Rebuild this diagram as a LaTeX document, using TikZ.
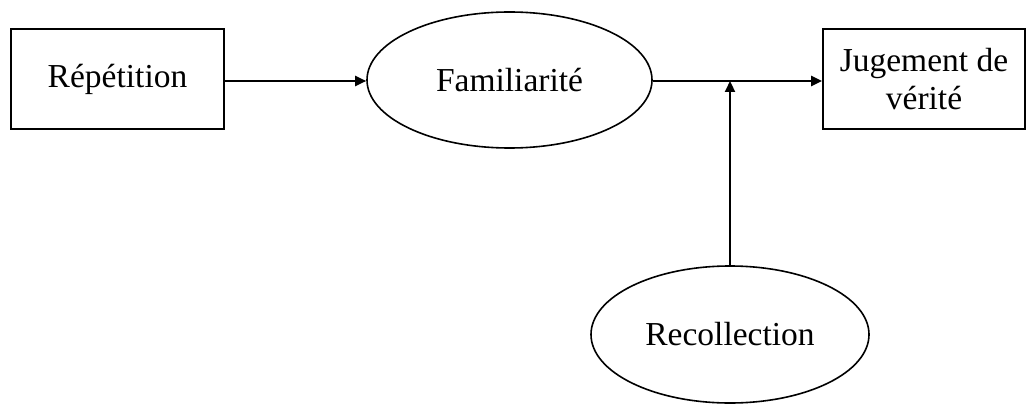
\documentclass[tikz,border=0pt]{standalone}
\usepackage{fontspec}
\setmainfont{Liberation Serif}
\usetikzlibrary{shapes.geometric,arrows.meta}
\begin{document}
\begin{tikzpicture}[x=1pt,y=1pt,
  boxnode/.style={draw,line width=1.8pt,rectangle,inner sep=0pt,align=center,font=\fontsize{33.5}{38}\selectfont},
  ellnode/.style={draw,line width=1.6pt,ellipse,inner sep=0pt,align=center,font=\fontsize{33.5}{38}\selectfont},
  conn/.style={line width=2.2pt,-{Triangle[length=11pt,width=10pt]}}]
\useasboundingbox (0,0) rectangle (1027,405);
\node[boxnode,minimum width=213pt,minimum height=100pt] (rep) at (117.5,326) {Répétition};
\node[ellnode,minimum width=285pt,minimum height=136pt] (fam) at (509.5,325) {Familiarité};
\node[boxnode,minimum width=202pt,minimum height=100pt] (jug) at (924,326) {Jugement de\\vérité};
\node[ellnode,minimum width=278pt,minimum height=137pt] (rec) at (730,70.5) {Recollection};
\coordinate (junc) at (730,324);
\draw[conn] (rep.east |- 0,324) -- (fam.west |- 0,324);
\draw[conn] (fam.east |- 0,324) -- (jug.west |- 0,324);
\draw[conn] (rec.north) -- (junc);
\end{tikzpicture}
\end{document}
